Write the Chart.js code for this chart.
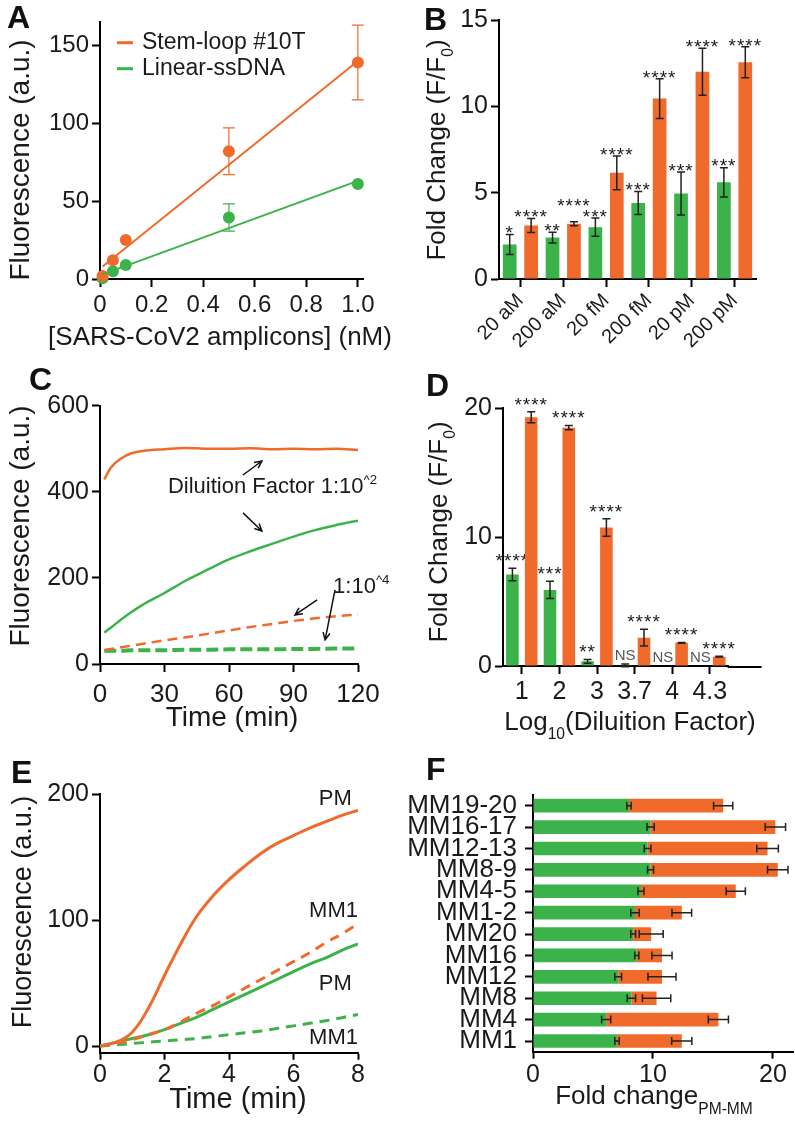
<!DOCTYPE html>
<html>
<head>
<meta charset="utf-8">
<title>Stem-loop vs linear ssDNA reporter panels</title>
<script src="https://cdn.jsdelivr.net/npm/chart.js@4.4.1/dist/chart.umd.min.js"></script>
<style>
  html, body { margin: 0; padding: 0; background: #fff; }
  body { position: relative; width: 795px; height: 1123px; overflow: hidden; }
  canvas { position: absolute; }
  .tag { position: absolute; font: bold 32px 'Liberation Sans', Arial, sans-serif; line-height: 32px; color: #111; }
</style>
</head>
<body>
<canvas id="chartA" width="397" height="360" style="left:0;top:0"></canvas>
<canvas id="chartB" width="398" height="370" style="left:397px;top:0"></canvas>
<canvas id="chartC" width="397" height="380" style="left:0;top:360px"></canvas>
<canvas id="chartD" width="398" height="380" style="left:397px;top:360px"></canvas>
<canvas id="chartE" width="397" height="383" style="left:0;top:740px"></canvas>
<canvas id="chartF" width="398" height="383" style="left:397px;top:740px"></canvas>
<div class="tag" style="left:7px;top:1px">A</div>
<div class="tag" style="left:424px;top:3px">B</div>
<div class="tag" style="left:29px;top:363px">C</div>
<div class="tag" style="left:426px;top:369px">D</div>
<div class="tag" style="left:11px;top:756px">E</div>
<div class="tag" style="left:426px;top:753px">F</div>
<script>
// ---- data ----
// A: end-point fluorescence vs amplicon concentration
const concA = [0.01, 0.05, 0.1, 0.5, 1.0];
const stemA = [2, 12, 25, 82, 139];
const stemErrA = [0, 0, 0, 15, 24];
const linearA = [0.5, 5, 9, 39.5, 61];
const linearErrA = [0, 0, 0, 8.7, 0];
const fitXA = [0.01, 1.0];
const stemFitA = [8, 140];
const linearFitA = [3, 63];
const yTicksA = [0, 50, 100, 150];
const xTicksA = [0, 0.2, 0.4, 0.6, 0.8, 1.0];

// B: fold change per target concentration
const labelsB = ['20 aM', '200 aM', '20 fM', '200 fM', '20 pM', '200 pM'];
const linearB = [2.0, 2.4, 3.0, 4.4, 4.95, 5.6];
const linearErrB = [0.58, 0.31, 0.53, 0.67, 1.25, 0.85];
const stemB = [3.1, 3.2, 6.15, 10.45, 12.0, 12.55];
const stemErrB = [0.4, 0.12, 0.98, 1.15, 1.36, 0.9];
const linearStarsB = ['*', '**', '***', '***', '***', '***'];
const stemStarsB = ['****', '****', '****', '****', '****', '****'];
const yTicksB = [0, 5, 10, 15];

// C: kinetics at two dilution factors
const timeC = [2, 5, 10, 15, 20, 30, 40, 50, 60, 70, 80, 90, 100, 110, 120];
const stemHiC = [429, 456, 478, 490, 495, 499, 502, 500, 500, 501, 499, 500, 499, 500, 497];
const linearHiC = [73, 84, 104, 122, 138, 165, 194, 219, 243, 262, 279, 296, 311, 323, 333];
const stemLoC = [32, 35, 39, 43, 47, 55, 62, 70, 78, 86, 93, 100, 106, 111, 115];
const linearLoC = [31, 31, 31, 32, 32, 32, 33, 33, 34, 34, 34, 35, 35, 36, 36];
const yTicksC = [0, 200, 400, 600];
const xTicksC = [0, 30, 60, 90, 120];

// D: fold change vs log10 dilution
const labelsD = ['1', '2', '3', '3.7', '4', '4.3'];
const linearD = [7.1, 5.9, 0.36, 0.05, 0, 0];
const linearErrD = [0.48, 0.67, 0.14, 0.1, 0, 0];
const stemD = [19.3, 18.5, 10.75, 2.2, 1.8, 0.72];
const stemErrD = [0.43, 0.17, 0.68, 0.65, 0.03, 0.03];
const linearStarsD = ['****', '***', '**', 'NS', 'NS', 'NS'];
const stemStarsD = ['****', '****', '****', '****', '****', '****'];
const yTicksD = [0, 10, 20];

// E: perfect match vs single mismatch kinetics
const timeE = [0, 0.5, 1, 1.5, 2, 2.5, 3, 3.5, 4, 4.5, 5, 5.5, 6, 6.5, 7, 7.5, 8];
const stemPmE = [0, 3, 11, 30, 56, 81, 103, 119, 132, 143, 153, 161, 167, 173, 178, 183, 187];
const stemMmE = [0, 2, 5, 9, 13, 19, 26, 32, 39, 46, 53, 60, 67, 74, 82, 89, 97];
const linearPmE = [0, 3, 6, 9, 13, 18, 23, 29, 35, 41, 47, 53, 59, 65, 70, 76, 81];
const linearMmE = [0, 1, 2, 3, 4, 5, 6, 7.5, 9, 10.5, 12, 14, 16, 18, 20, 22.5, 25];
const yTicksE = [0, 100, 200];
const xTicksE = [0, 2, 4, 6, 8];

// F: PM/MM fold change per mismatch position
const labelsF = ['MM19-20', 'MM16-17', 'MM12-13', 'MM8-9', 'MM4-5', 'MM1-2', 'MM20', 'MM16', 'MM12', 'MM8', 'MM4', 'MM1'];
const linearF = [8.0, 9.8, 9.55, 9.8, 9.0, 8.5, 8.35, 8.65, 7.1, 8.2, 6.1, 7.0];
const linearErrF = [0.18, 0.3, 0.28, 0.25, 0.25, 0.35, 0.2, 0.17, 0.28, 0.35, 0.38, 0.18];
const stemTotalF = [15.85, 20.2, 19.55, 20.4, 16.9, 12.4, 9.85, 10.75, 10.75, 10.3, 15.45, 12.4];
const stemErrF = [0.8, 0.85, 0.9, 0.85, 0.8, 0.82, 1.0, 0.84, 1.17, 1.18, 0.84, 0.84];
const xTicksF = [0, 10, 20];

// ---- style ----
const ORANGE = '#ef6a2b';
const GREEN = '#3cb34a';
const INK = '#1a1a1a';
const FONT = "'Liberation Sans', Arial, Helvetica, sans-serif";

Chart.defaults.font.family = FONT;
Chart.defaults.color = INK;
Chart.defaults.animation = false;
Chart.defaults.plugins.legend.display = false;
Chart.defaults.plugins.tooltip.enabled = false;

function frame(tickLen) {
  return {
    border: { display: true, color: '#000', width: 2 },
    grid: { display: true, drawOnChartArea: false, drawTicks: true, tickLength: tickLen || 8, tickWidth: 2, tickColor: '#000', offset: false }
  };
}

// linear axis with fixed thickness and explicit tick values
function linAxis(thick, isX, size, min, max, ticks, fmt, pad, tickLen) {
  return Object.assign(frame(tickLen), {
    type: 'linear', min: min, max: max,
    afterFit: s => { if (isX) s.height = thick; else s.width = thick; },
    afterBuildTicks: s => { s.ticks = ticks.map(v => ({ value: v })); },
    ticks: { font: { size: size }, color: INK, padding: pad === undefined ? 3 : pad, autoSkip: false, maxRotation: 0,
             callback: fmt || (v => String(v)) }
  });
}

function catAxis(thick, isX, size, tickExtra) {
  return Object.assign(frame(), {
    type: 'category', offset: true,
    afterFit: s => { if (isX) s.height = thick; else s.width = thick; },
    ticks: Object.assign({ font: { size: size }, color: INK, padding: 3, autoSkip: false }, tickExtra || {})
  });
}

function pts(xs, ys) { return xs.map((x, i) => ({ x: x, y: ys[i] })); }

// ---- plugins ----
function valueOf(raw) {
  if (Array.isArray(raw)) return raw[1];
  if (raw !== null && typeof raw === 'object') return raw.y;
  return raw;
}

function drawErrors(chart) {
  const ctx = chart.ctx;
  const horiz = chart.options.indexAxis === 'y';
  const vScale = horiz ? chart.scales.x : chart.scales.y;
  chart.data.datasets.forEach((ds, di) => {
    if (!ds.errors) return;
    const meta = chart.getDatasetMeta(di);
    ctx.save();
    ctx.strokeStyle = ds.errorColor || '#222';
    ctx.lineWidth = ds.errorWidth || 1.5;
    meta.data.forEach((el, i) => {
      const e = ds.errors[i];
      if (!e) return;
      const v = valueOf(ds.data[i]);
      const p1 = vScale.getPixelForValue(v + e);
      const p2 = vScale.getPixelForValue(v - e);
      const c = horiz ? el.y : el.x;
      const cap = ds.errorCap || 4;
      ctx.beginPath();
      if (horiz) {
        ctx.moveTo(p1, c); ctx.lineTo(p2, c);
        ctx.moveTo(p1, c - cap); ctx.lineTo(p1, c + cap);
        ctx.moveTo(p2, c - cap); ctx.lineTo(p2, c + cap);
      } else {
        ctx.moveTo(c, p1); ctx.lineTo(c, p2);
        ctx.moveTo(c - cap, p1); ctx.lineTo(c + cap, p1);
        ctx.moveTo(c - cap, p2); ctx.lineTo(c + cap, p2);
      }
      ctx.stroke();
    });
    ctx.restore();
  });
}

const errorBars = {
  id: 'errorBars',
  beforeDatasetsDraw(chart, args, opts) { if (opts.before) drawErrors(chart); },
  afterDatasetsDraw(chart, args, opts) { if (!opts.before) drawErrors(chart); }
};

const stars = {
  id: 'stars',
  beforeDatasetsDraw(chart, args, opts) {
    if (!opts.gap) return;
    const ctx = chart.ctx, y = chart.scales.y;
    chart.data.datasets.forEach((ds, di) => {
      if (!ds.stars) return;
      const meta = chart.getDatasetMeta(di);
      meta.data.forEach((el, i) => {
        const label = ds.stars[i];
        if (!label) return;
        const top = y.getPixelForValue(ds.data[i] + (ds.errors ? ds.errors[i] : 0));
        const lift = (opts.lift && opts.lift[di + ':' + i]) || 0;
        ctx.save();
        ctx.textAlign = 'center';
        if (label === 'NS') {
          ctx.font = opts.nsSize + 'px ' + FONT;
          ctx.fillStyle = '#555';
          ctx.textBaseline = 'middle';
          ctx.fillText(label, el.x, top - opts.nsGap);
        } else {
          ctx.font = opts.size + 'px ' + FONT;
          ctx.letterSpacing = '1px';
          ctx.fillStyle = INK;
          ctx.textBaseline = 'alphabetic';
          ctx.fillText(label, el.x, top - opts.gap - lift + opts.size * 0.57);
        }
        ctx.restore();
      });
    });
  }
};

function richText(ctx, it, chart) {
  let x = it.x, y = it.y;
  if (it.data) {
    x = chart.scales.x.getPixelForValue(it.data[0]);
    y = chart.scales.y.getPixelForValue(it.data[1]);
  }
  const size = it.size || 26;
  const parts = it.parts.map(p => typeof p === 'string' ? { t: p } : Object.assign({}, p));
  let total = 0;
  parts.forEach(p => {
    p.s = (p.sub || p.sup) ? size * 0.6 : size;
    ctx.font = p.s + 'px ' + FONT;
    p.w = ctx.measureText(p.t).width;
    total += p.w;
  });
  ctx.save();
  ctx.translate(x, y);
  if (it.rot) ctx.rotate(it.rot * Math.PI / 180);
  ctx.fillStyle = it.color || INK;
  ctx.textBaseline = 'middle';
  ctx.textAlign = 'left';
  let cx = it.align === 'left' ? 0 : it.align === 'right' ? -total : -total / 2;
  parts.forEach(p => {
    ctx.font = p.s + 'px ' + FONT;
    const dy = p.sub ? size * (it.subDrop || 0.42) : p.sup ? -size * 0.3 : 0;
    ctx.fillText(p.t, cx, dy);
    cx += p.w;
  });
  ctx.restore();
}

const texts = {
  id: 'texts',
  afterDraw(chart, args, opts) {
    const ctx = chart.ctx;
    (opts.items || []).forEach(it => {
      if (it.swatch) {
        ctx.save();
        ctx.strokeStyle = it.swatch;
        ctx.lineWidth = 3;
        ctx.beginPath();
        ctx.moveTo(it.x1, it.y); ctx.lineTo(it.x2, it.y);
        ctx.stroke();
        ctx.restore();
      } else {
        richText(ctx, it, chart);
      }
    });
    // arrows given in data units
    (opts.arrows || []).forEach(a => {
      const xs = chart.scales.x, ys = chart.scales.y;
      const x1 = xs.getPixelForValue(a.from[0]), y1 = ys.getPixelForValue(a.from[1]);
      const x2 = xs.getPixelForValue(a.to[0]), y2 = ys.getPixelForValue(a.to[1]);
      const ang = Math.atan2(y2 - y1, x2 - x1);
      const h = 8;
      ctx.save();
      ctx.strokeStyle = '#111';
      ctx.lineWidth = 1.5;
      ctx.beginPath();
      ctx.moveTo(x1, y1); ctx.lineTo(x2, y2);
      ctx.moveTo(x2 - h * Math.cos(ang - 0.45), y2 - h * Math.sin(ang - 0.45));
      ctx.lineTo(x2, y2);
      ctx.lineTo(x2 - h * Math.cos(ang + 0.45), y2 - h * Math.sin(ang + 0.45));
      ctx.stroke();
      ctx.restore();
    });
    // optional extension of the x axis line past the last category
    if (opts.extendX) {
      const sx = chart.scales.x;
      ctx.save();
      ctx.strokeStyle = '#000';
      ctx.lineWidth = 2;
      ctx.beginPath();
      ctx.moveTo(chart.chartArea.right - 1, sx.top + 1);
      ctx.lineTo(chart.chartArea.right + opts.extendX, sx.top + 1);
      ctx.stroke();
      ctx.restore();
    }
  }
};

Chart.register(errorBars, stars, texts);

// ---- A ----
new Chart(document.getElementById('chartA'), {
  type: 'scatter',
  data: {
    datasets: [
      { type: 'line', data: pts(fitXA, stemFitA), borderColor: ORANGE, borderWidth: 2, pointRadius: 0, clip: false },
      { type: 'line', data: pts(fitXA, linearFitA), borderColor: GREEN, borderWidth: 2, pointRadius: 0, clip: false },
      { data: pts(concA, stemA), errors: stemErrA, errorColor: ORANGE, errorWidth: 1.2, errorCap: 6,
        backgroundColor: ORANGE, pointRadius: 6, pointBorderWidth: 0, clip: false },
      { data: pts(concA, linearA), errors: linearErrA, errorColor: GREEN, errorWidth: 1.2, errorCap: 6,
        backgroundColor: GREEN, pointRadius: 6, pointBorderWidth: 0, clip: false }
    ]
  },
  options: {
    responsive: false,
    layout: { padding: { top: 22, right: 34, left: 0, bottom: 0 } },
    scales: {
      x: linAxis(81, true, 24, 0, 1.02, xTicksA, v => v === 0 ? '0' : v.toFixed(1), 4),
      y: linAxis(100, false, 24, 0, 165, yTicksA)
    },
    plugins: {
      errorBars: { before: true },
      texts: {
        items: [
          { parts: ['Fluorescence (a.u.)'], x: 21.5, y: 160, rot: -90, size: 28 },
          { parts: ['[SARS-CoV2 amplicons] (nM)'], x: 220, y: 338, size: 26 },
          { swatch: ORANGE, x1: 117, x2: 133, y: 42.7 },
          { parts: ['Stem-loop #10T'], x: 142, y: 43, align: 'left', size: 23 },
          { swatch: GREEN, x1: 117, x2: 133, y: 68.7 },
          { parts: ['Linear-ssDNA'], x: 142, y: 69, align: 'left', size: 23 }
        ]
      }
    }
  }
});

// ---- B ----
new Chart(document.getElementById('chartB'), {
  type: 'bar',
  data: {
    labels: labelsB,
    datasets: [
      { data: linearB, errors: linearErrB, stars: linearStarsB, backgroundColor: GREEN, barPercentage: 0.64, categoryPercentage: 1.0 },
      { data: stemB, errors: stemErrB, stars: stemStarsB, backgroundColor: ORANGE, barPercentage: 0.64, categoryPercentage: 1.0 }
    ]
  },
  options: {
    responsive: false,
    layout: { padding: { top: 20, right: 39, left: 0, bottom: 0 } },
    scales: {
      x: catAxis(91, true, 20, { minRotation: 45, maxRotation: 45, padding: 2 }),
      y: linAxis(102, false, 25, 0, 15, yTicksB)
    },
    plugins: {
      stars: { gap: 6, size: 19, lift: { '1:1': 15 } },
      texts: {
        items: [
          { parts: ['Fold Change (F/F', { t: '0', sub: true }, ')'], x: 41, y: 150, rot: -90, size: 26 }
        ]
      }
    }
  }
});

// ---- C ----
new Chart(document.getElementById('chartC'), {
  type: 'line',
  data: {
    datasets: [
      { data: pts(timeC, stemHiC), borderColor: ORANGE, borderWidth: 2.5, pointRadius: 0, cubicInterpolationMode: 'monotone' },
      { data: pts(timeC, linearHiC), borderColor: GREEN, borderWidth: 2.5, pointRadius: 0, cubicInterpolationMode: 'monotone' },
      { data: pts(timeC, stemLoC), borderColor: ORANGE, borderWidth: 2.5, borderDash: [10, 6], pointRadius: 0, cubicInterpolationMode: 'monotone' },
      { data: pts(timeC, linearLoC), borderColor: GREEN, borderWidth: 4, borderDash: [12, 5], pointRadius: 0, cubicInterpolationMode: 'monotone' }
    ]
  },
  options: {
    responsive: false,
    layout: { padding: { top: 45.7, right: 39, left: 0, bottom: 0 } },
    scales: {
      x: linAxis(76, true, 26, 0, 120, xTicksC, null, 7),
      y: linAxis(100, false, 25, 0, 600, yTicksC)
    },
    plugins: {
      texts: {
        items: [
          { parts: ['Fluorescence (a.u.)'], x: 21.5, y: 166, rot: -90, size: 28 },
          { parts: ['Time (min)'], x: 232, y: 358, size: 28 },
          { parts: ['Diluition Factor 1:10', { t: '^2', sup: true }], data: [31.6, 411], align: 'left', size: 22 },
          { parts: ['1:10', { t: '^4', sup: true }], data: [108.4, 179], align: 'left', size: 22 }
        ],
        arrows: [
          { from: [66.5, 439], to: [75.3, 471.5] },
          { from: [66.5, 351], to: [75.3, 309] },
          { from: [101, 149], to: [90.7, 114] },
          { from: [109.3, 172], to: [104.7, 56] }
        ]
      }
    }
  }
});

// ---- D ----
new Chart(document.getElementById('chartD'), {
  type: 'bar',
  data: {
    labels: labelsD,
    datasets: [
      { data: linearD, errors: linearErrD, stars: linearStarsD, backgroundColor: GREEN, barPercentage: 0.67, categoryPercentage: 1.0 },
      { data: stemD, errors: stemErrD, stars: stemStarsD, backgroundColor: ORANGE, barPercentage: 0.67, categoryPercentage: 1.0 }
    ]
  },
  options: {
    responsive: false,
    layout: { padding: { top: 48.3, right: 66.4, left: 0, bottom: 0 } },
    scales: {
      x: catAxis(74, true, 25, { maxRotation: 0, padding: 3 }),
      y: linAxis(106, false, 25, 0, 20, yTicksD)
    },
    plugins: {
      stars: { gap: 12, size: 19, nsSize: 15, nsGap: 8 },
      texts: {
        extendX: 33,
        items: [
          { parts: ['Fold Change (F/F', { t: '0', sub: true }, ')'], x: 43, y: 172, rot: -90, size: 26 },
          { parts: ['Log', { t: '10', sub: true }, '(Diluition Factor)'], x: 233, y: 363, size: 26, subDrop: 0.46 }
        ]
      }
    }
  }
});

// ---- E ----
new Chart(document.getElementById('chartE'), {
  type: 'line',
  data: {
    datasets: [
      { data: pts(timeE, stemPmE), borderColor: ORANGE, borderWidth: 3, pointRadius: 0, tension: 0.4 },
      { data: pts(timeE, stemMmE), borderColor: ORANGE, borderWidth: 3, borderDash: [10, 7], pointRadius: 0, tension: 0.4 },
      { data: pts(timeE, linearPmE), borderColor: GREEN, borderWidth: 3, pointRadius: 0, tension: 0.4 },
      { data: pts(timeE, linearMmE), borderColor: GREEN, borderWidth: 3, borderDash: [10, 7], pointRadius: 0, tension: 0.4 }
    ]
  },
  options: {
    responsive: false,
    layout: { padding: { top: 54, right: 39, left: 0, bottom: 0 } },
    scales: {
      x: linAxis(70.3, true, 25, 0, 8, xTicksE, null, 0, 7),
      y: linAxis(100, false, 25, -5.3, 200, yTicksE)
    },
    plugins: {
      texts: {
        items: [
          { parts: ['Fluorescence (a.u.)'], x: 23.5, y: 172, rot: -90, size: 27 },
          { parts: ['Time (min)'], x: 238, y: 360, size: 29 },
          { parts: ['PM'], data: [7.81, 196], align: 'right', size: 22 },
          { parts: ['MM1'], data: [8.0, 107], align: 'right', size: 22 },
          { parts: ['PM'], data: [7.81, 49], align: 'right', size: 22 },
          { parts: ['MM1'], data: [8.0, 6.3], align: 'right', size: 22 }
        ]
      }
    }
  }
});

// ---- F ----
new Chart(document.getElementById('chartF'), {
  type: 'bar',
  data: {
    labels: labelsF,
    datasets: [
      { data: linearF, errors: linearErrF, backgroundColor: GREEN, barPercentage: 0.64, categoryPercentage: 1.0, grouped: false },
      { data: linearF.map((g, i) => [g, stemTotalF[i]]), errors: stemErrF, backgroundColor: ORANGE,
        barPercentage: 0.64, categoryPercentage: 1.0, grouped: false }
    ]
  },
  options: {
    responsive: false,
    indexAxis: 'y',
    layout: { padding: { top: 55, right: 2, left: 0, bottom: 0 } },
    scales: {
      x: linAxis(71.3, true, 25, 0, 21.67, xTicksF, null, 1, 7),
      y: catAxis(136, false, 26, { padding: 8 })
    },
    plugins: {
      texts: {
        items: [
          { parts: ['Fold change', { t: 'PM-MM', sub: true }], x: 257, y: 357, size: 26, subDrop: 0.5 }
        ]
      }
    }
  }
});
</script>
</body>
</html>
